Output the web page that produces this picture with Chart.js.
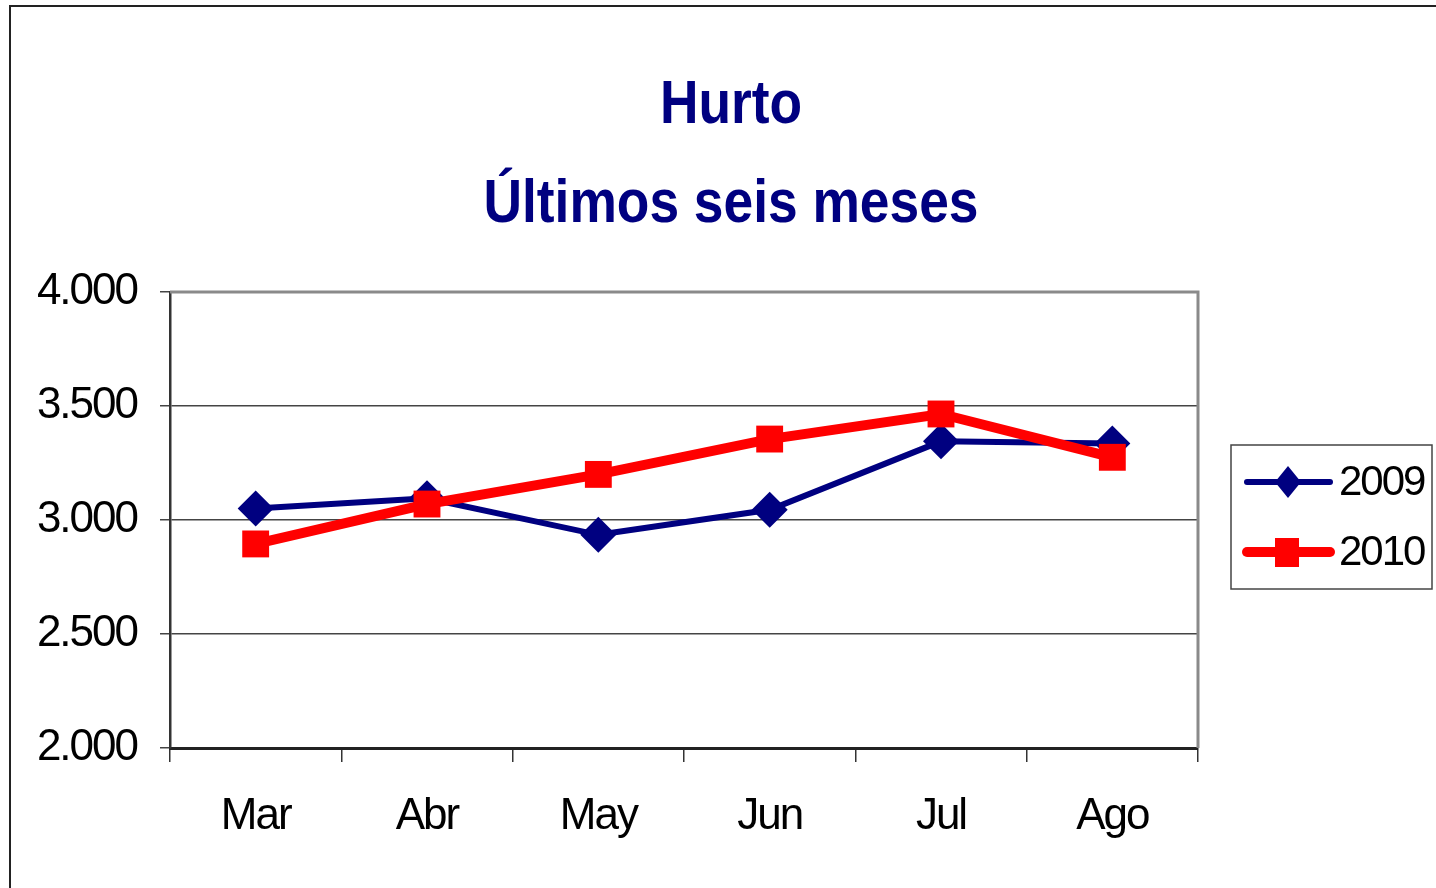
<!DOCTYPE html>
<html>
<head>
<meta charset="utf-8">
<title>Hurto</title>
<script src="https://cdn.jsdelivr.net/npm/chart.js@4.4.1/dist/chart.umd.min.js"></script>
<style>
  html, body { margin: 0; padding: 0; background: #fff; }
  #wrap { width: 1436px; height: 888px; position: relative; }
</style>
</head>
<body>
<div id="wrap"><canvas id="hurtoChart" width="1436" height="888"></canvas></div>
<script>
// Data
const months = ["Mar", "Abr", "May", "Jun", "Jul", "Ago"];
const hurto2009 = [3050, 3095, 2935, 3045, 3345, 3335];
const hurto2010 = [2895, 3070, 3200, 3355, 3465, 3275];
const yTicks = [2000, 2500, 3000, 3500, 4000];
const titleLines = ["Hurto", "Últimos seis meses"];

const SANS = "'Liberation Sans', Arial, sans-serif";

// format 4000 -> "4.000"
function fmt(v) {
  return String(v).replace(/\B(?=(\d{3})+(?!\d))/g, ".");
}

// Outer frame, plot border, narrower text
const framePlugin = {
  id: "frame",
  beforeDraw(chart) {
    const c = chart.ctx;
    c.letterSpacing = "-2px";
    c.save();
    c.fillStyle = "#fff";
    c.fillRect(0, 0, chart.width, chart.height);
    c.strokeStyle = "#222";
    c.lineWidth = 2;
    c.beginPath();
    c.moveTo(10, 888);
    c.lineTo(10, 6);
    c.lineTo(1436, 6);
    c.stroke();
    c.restore();
  },
  beforeDatasetsDraw(chart) {
    const a = chart.chartArea;
    const c = chart.ctx;
    c.save();
    c.strokeStyle = "#8a8a8a";
    c.lineWidth = 3;
    c.beginPath();
    c.moveTo(a.left, a.top);
    c.lineTo(a.right, a.top);
    c.lineTo(a.right, a.bottom);
    c.stroke();
    c.restore();
  }
};

// Two-line title, squeezed a bit like the original condensed face
const titlePlugin = {
  id: "bigTitle",
  afterDraw(chart) {
    const c = chart.ctx;
    const baselines = [123, 222];
    c.save();
    c.letterSpacing = "0px";
    c.fillStyle = "#000080";
    c.font = "bold 62px " + SANS;
    c.textAlign = "center";
    c.textBaseline = "alphabetic";
    titleLines.forEach((t, i) => {
      c.save();
      c.translate(731, baselines[i]);
      c.scale(0.86, 1);
      c.fillText(t, 0, 0);
      c.restore();
    });
    c.restore();
  }
};

// Legend box at right, line + marker like the original
const legendPlugin = {
  id: "sideLegend",
  afterDraw(chart) {
    const c = chart.ctx;
    c.save();
    c.strokeStyle = "#444";
    c.lineWidth = 1.5;
    c.strokeRect(1231, 445, 201, 144);
    const rows = [482, 552];
    chart.data.datasets.forEach((ds, i) => {
      const y = rows[i];
      c.strokeStyle = ds.borderColor;
      c.lineWidth = i === 0 ? 6 : 10;
      c.lineCap = "round";
      c.beginPath();
      c.moveTo(1247, y);
      c.lineTo(1330, y);
      c.stroke();
      c.fillStyle = ds.pointBackgroundColor;
      c.beginPath();
      if (ds.pointStyle === "rectRot") {
        c.moveTo(1288, y - 16);
        c.lineTo(1301, y);
        c.lineTo(1288, y + 16);
        c.lineTo(1275, y);
        c.closePath();
      } else {
        c.rect(1275, y - 14, 24, 29);
      }
      c.fill();
      c.fillStyle = "#000";
      c.letterSpacing = "-2px";
      c.font = "42px " + SANS;
      c.textBaseline = "middle";
      c.textAlign = "left";
      c.fillText(ds.label, 1339, y + 1);
    });
    c.restore();
  }
};

const ctx = document.getElementById("hurtoChart").getContext("2d");

new Chart(ctx, {
  type: "line",
  data: {
    labels: months,
    datasets: [
      {
        label: "2009",
        data: hurto2009,
        borderColor: "#000080",
        backgroundColor: "#000080",
        pointBackgroundColor: "#000080",
        pointBorderColor: "#000080",
        borderWidth: 6,
        pointStyle: "rectRot",
        pointRadius: 18,
        pointBorderWidth: 0,
        tension: 0,
        order: 1
      },
      {
        label: "2010",
        data: hurto2010,
        borderColor: "#ff0000",
        backgroundColor: "#ff0000",
        pointBackgroundColor: "#ff0000",
        pointBorderColor: "#ff0000",
        borderWidth: 10,
        pointStyle: "rect",
        pointRadius: 19,
        pointBorderWidth: 0,
        tension: 0,
        order: 0
      }
    ]
  },
  options: {
    responsive: false,
    animation: false,
    layout: {
      padding: { left: 24, right: 238, top: 292, bottom: 0 }
    },
    plugins: {
      legend: { display: false },
      tooltip: { enabled: false },
      title: { display: false }
    },
    scales: {
      x: {
        offset: true,
        grid: {
          offset: true,
          drawOnChartArea: false,
          color: "#333",
          lineWidth: 1.5,
          tickLength: 14
        },
        border: { color: "#222", width: 3 },
        ticks: {
          color: "#000",
          padding: 28,
          font: { family: SANS, size: 44 }
        },
        afterFit(scale) { scale.height = 140; }
      },
      y: {
        min: 2000,
        max: 4000,
        afterBuildTicks(scale) {
          scale.ticks = yTicks.map(v => ({ value: v }));
        },
        grid: {
          color: "#444",
          lineWidth: 1.5,
          tickLength: 10
        },
        border: { color: "#333", width: 2.5 },
        ticks: {
          color: "#000",
          padding: 23,
          font: { family: SANS, size: 44 },
          callback: (v) => fmt(v)
        },
        afterFit(scale) { scale.width = 146; }
      }
    }
  },
  plugins: [framePlugin, titlePlugin, legendPlugin]
});
</script>
</body>
</html>
